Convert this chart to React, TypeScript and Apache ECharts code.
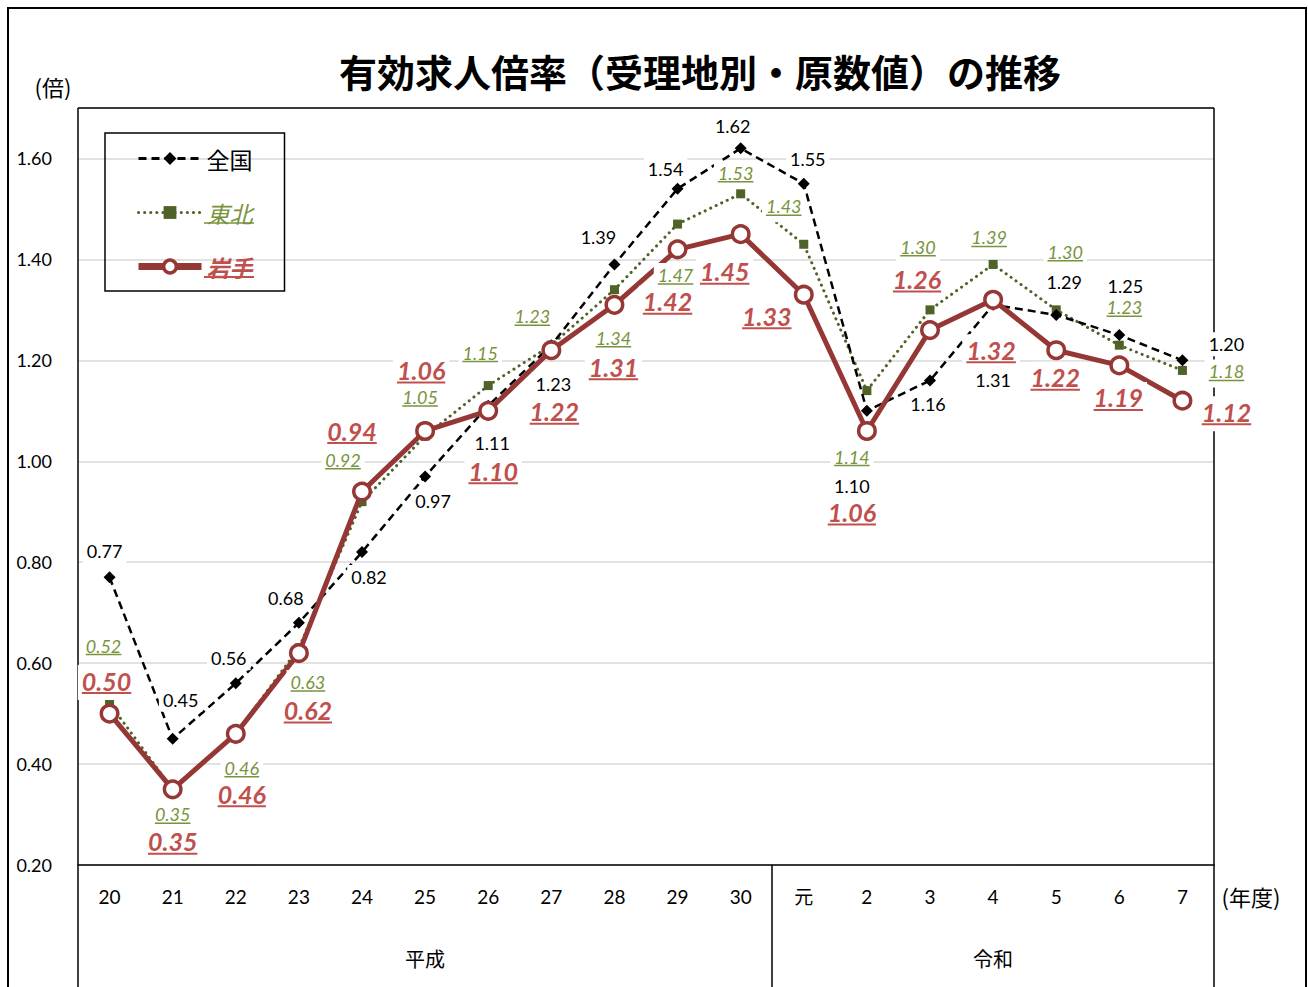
import React, { useEffect, useRef } from "react";
import * as echarts from "echarts";

const categories = ["20", "21", "22", "23", "24", "25", "26", "27", "28", "29", "30", "元", "2", "3", "4", "5", "6", "7"];
const zenkoku = [0.77, 0.45, 0.56, 0.68, 0.82, 0.97, 1.11, 1.23, 1.39, 1.54, 1.62, 1.55, 1.10, 1.16, 1.31, 1.29, 1.25, 1.20];
const tohoku = [0.52, 0.35, 0.46, 0.63, 0.92, 1.05, 1.15, 1.23, 1.34, 1.47, 1.53, 1.43, 1.14, 1.30, 1.39, 1.30, 1.23, 1.18];
const iwate = [0.50, 0.35, 0.46, 0.62, 0.94, 1.06, 1.10, 1.22, 1.31, 1.42, 1.45, 1.33, 1.06, 1.26, 1.32, 1.22, 1.19, 1.12];
const seriesNames = ["全国", "東北", "岩手"];
const eraNames = ["平成", "令和"];

// label placement offsets (px) relative to each point
const zenkokuOffsets = [[-5, -26], [8, -39], [-7, -25], [-13, -25], [7, 25], [8, 25], [4, 37], [2, 39], [-16, -27], [-12, -20], [-8, -22], [4, -25], [-15, 75], [-2, 23], [0, 75], [8, -33], [6, -49], [44, -16]];
const tohokuOffsets = [[-6, -58], [0, 25], [6, 34], [9, 34], [-19, -42], [-5, -39], [-8, -33], [-19, -29], [-1, 48], [-2, 51], [-5, -21], [-20, -38], [-15, 66], [-12, -63], [-4, -27], [9, -58], [5, -38], [44, 1]];
const iwateOffsets = [[-3, -33], [0, 52], [6, 60], [9, 57], [-10, -61], [-4, -61], [5, 60], [3, 61], [-1, 62], [-10, 52], [-16, 37], [-37, 21], [-15, 81], [-13, -51], [-2, 50], [-1, 27], [-1, 32], [44, 11]];

const FONT = "Lato, 'Noto Sans CJK JP', sans-serif";
const CJK = "'Noto Sans CJK JP', sans-serif";

let measureCtx: CanvasRenderingContext2D | null = null;
function textWidth(t: string, font: string) {
  if (!measureCtx) measureCtx = document.createElement("canvas").getContext("2d");
  measureCtx!.font = font;
  return measureCtx!.measureText(t).width;
}

function labelSeries(values: number[], offsets: number[][], cfg: any) {
  return {
    type: "custom",
    silent: true,
    z: 10,
    data: values.map((v, i) => [i, v]),
    renderItem: (params: any, api: any) => {
      const idx = params.dataIndex;
      const p = api.coord([api.value(0), api.value(1)]);
      const cx = p[0] + offsets[idx][0];
      const cy = p[1] + offsets[idx][1];
      const txt = values[idx].toFixed(2);
      const font = `${cfg.style} ${cfg.weight} ${cfg.size}px ${FONT}`;
      const w = textWidth(txt, font);
      const children: any[] = [
        {
          type: "rect",
          shape: { x: cx - w / 2 - 4, y: cy - cfg.size / 2 - 3, width: w + 8, height: cfg.size + 6 + (cfg.underline ? 4 : 0) },
          style: { fill: "#fff" },
        },
        {
          type: "text",
          style: {
            text: txt,
            x: cx,
            y: cy,
            align: "center",
            verticalAlign: "middle",
            fontSize: cfg.size,
            fontFamily: FONT,
            fontStyle: cfg.style,
            fontWeight: cfg.weight,
            fill: cfg.color,
          },
        },
      ];
      if (cfg.underline) {
        children.push({
          type: "line",
          shape: { x1: cx - w / 2, y1: cy + cfg.ul, x2: cx + w / 2, y2: cy + cfg.ul },
          style: { stroke: cfg.color, lineWidth: cfg.ulw },
        });
      }
      return { type: "group", children };
    },
  };
}

export default function App() {
  const ref = useRef<HTMLDivElement>(null);
  useEffect(() => {
    const chart = echarts.init(ref.current!, null, { renderer: "svg" });
    const GL = 78, GR = 1214, GT = 108, GB = 865;
    const option: any = {
      animation: false,
      backgroundColor: "#fff",
      grid: { left: GL, right: 1308 - GR, top: GT, bottom: 987 - GB, show: false },
      legend: {
        orient: "vertical",
        left: 105,
        top: 133,
        padding: [14, 32, 13, 30],
        itemGap: 31,
        itemWidth: 63,
        itemHeight: 16,
        borderColor: "#000",
        borderWidth: 1.5,
        selectedMode: false,
        textStyle: { fontSize: 23, fontFamily: CJK, color: "#000" },
        data: [
          { name: seriesNames[0], lineStyle: { width: 3 } },
          { name: seriesNames[1], lineStyle: { width: 3 }, textStyle: { color: "#77933C", fontStyle: "italic" } },
          {
            name: seriesNames[2],
            lineStyle: { width: 7 },
            itemStyle: { borderWidth: 3.5 },
            textStyle: { color: "#C0504D", fontStyle: "italic", fontWeight: "bold" },
          },
        ],
      },
      xAxis: {
        type: "category",
        data: categories,
        boundaryGap: true,
        axisLine: { lineStyle: { color: "#000", width: 1.5 } },
        axisTick: { show: false },
        axisLabel: { margin: 22, fontSize: 19, fontFamily: FONT, color: "#000" },
      },
      yAxis: {
        type: "value",
        min: 0.2,
        max: 1.7,
        interval: 0.2,
        axisLine: { show: false },
        axisTick: { show: false },
        axisLabel: {
          margin: 26,
          fontSize: 18,
          fontFamily: FONT,
          color: "#000",
          formatter: (v: number) => (v > 1.65 ? "" : v.toFixed(2)),
        },
        splitLine: { lineStyle: { color: "#D9D9D9", width: 1.5 } },
      },
      series: [
        {
          name: seriesNames[1],
          type: "line",
          data: tohoku,
          symbol: "rect",
          symbolSize: 9,
          z: 3,
          lineStyle: { color: "#4F6228", width: 3, type: [0.1, 6], cap: "round" },
          itemStyle: { color: "#4F6228" },
        },
        {
          name: seriesNames[0],
          type: "line",
          data: zenkoku,
          symbol: "diamond",
          symbolSize: 12,
          z: 4,
          lineStyle: { color: "#000", width: 2.5, type: [8, 5] },
          itemStyle: { color: "#000" },
        },
        {
          name: seriesNames[2],
          type: "line",
          data: iwate,
          symbol: "circle",
          symbolSize: 16.5,
          z: 5,
          lineStyle: { color: "#953735", width: 5 },
          itemStyle: { color: "#fff", borderColor: "#953735", borderWidth: 3.5 },
        },
        labelSeries(zenkoku, zenkokuOffsets, { size: 18, style: "normal", weight: "normal", color: "#000", underline: false }),
        labelSeries(tohoku, tohokuOffsets, { size: 18, style: "italic", weight: "normal", color: "#77933C", underline: true, ul: 9, ulw: 1.5 }),
        labelSeries(iwate, iwateOffsets, { size: 25, style: "italic", weight: "bold", color: "#C0504D", underline: true, ul: 12.5, ulw: 2 }),
      ],
      graphic: [
        { type: "rect", z: 0, shape: { x: 8, y: 8, width: 1298, height: 1000 }, style: { fill: "none", stroke: "#000", lineWidth: 2 } },
        { type: "line", z: 1, shape: { x1: GL, y1: GT, x2: GR, y2: GT }, style: { stroke: "#000", lineWidth: 1.5 } },
        { type: "line", z: 1, shape: { x1: GL, y1: GT, x2: GL, y2: 990 }, style: { stroke: "#000", lineWidth: 1.5 } },
        { type: "line", z: 1, shape: { x1: GR, y1: GT, x2: GR, y2: 990 }, style: { stroke: "#000", lineWidth: 1.5 } },
        { type: "line", z: 1, shape: { x1: 772, y1: GB, x2: 772, y2: 990 }, style: { stroke: "#000", lineWidth: 1.5 } },
        {
          type: "text", z: 20, x: 700, y: 70,
          style: { text: "有効求人倍率（受理地別・原数値）の推移", fontSize: 38, fontWeight: "bold", fontFamily: CJK, fill: "#000", align: "center", verticalAlign: "middle" },
        },
        { type: "text", x: 53, y: 86, style: { text: "(倍)", fontSize: 22, fontFamily: CJK, fill: "#000", align: "center", verticalAlign: "middle" } },
        { type: "text", x: 1251, y: 896, style: { text: "(年度)", fontSize: 22, fontFamily: CJK, fill: "#000", align: "center", verticalAlign: "middle" } },
        { type: "text", x: 425, y: 958, style: { text: eraNames[0], fontSize: 20, fontFamily: CJK, fill: "#000", align: "center", verticalAlign: "middle" } },
        { type: "text", x: 993, y: 958, style: { text: eraNames[1], fontSize: 20, fontFamily: CJK, fill: "#000", align: "center", verticalAlign: "middle" } },
        { type: "line", z: 20, shape: { x1: 204, y1: 223, x2: 254, y2: 223 }, style: { stroke: "#77933C", lineWidth: 1.5 } },
        { type: "line", z: 20, shape: { x1: 204, y1: 277, x2: 254, y2: 277 }, style: { stroke: "#C0504D", lineWidth: 2 } },
      ],
    };
    chart.setOption(option);
    return () => chart.dispose();
  }, []);
  return <div ref={ref} style={{ position: "fixed", left: 0, top: 0, width: 1308, height: 987 }} />;
}
